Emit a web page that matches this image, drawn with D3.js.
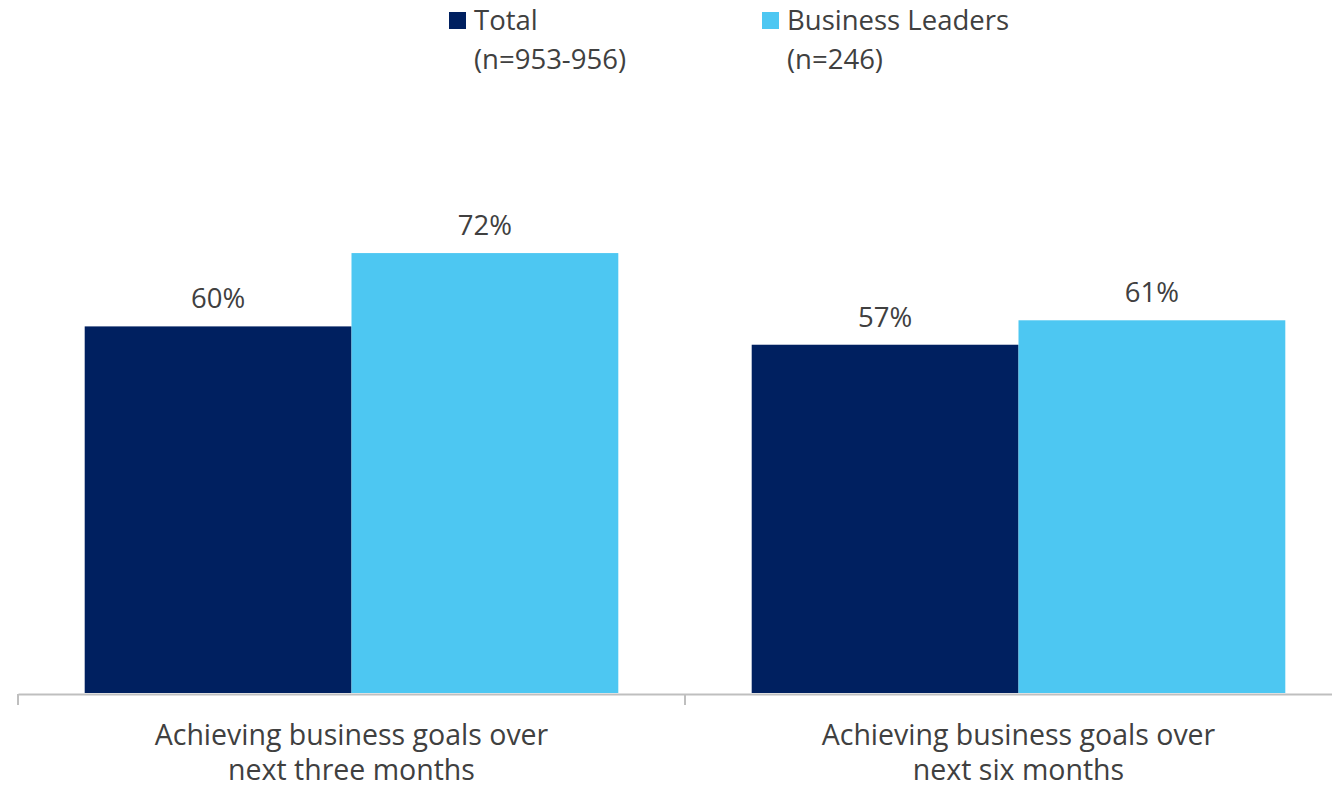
<!DOCTYPE html>
<html>
<head>
<meta charset="utf-8">
<script src="https://cdn.jsdelivr.net/npm/d3@7"></script>
<style>
  html, body { margin: 0; padding: 0; background: #fff; }
  svg { display: block; }
  text { font-family: "Open Sans", "Noto Sans", sans-serif; fill: #404040; }
</style>
</head>
<body>
<svg id="chart" width="1332" height="787"></svg>
<script>
// Share of respondents confident in achieving business goals
const categories = [
  ["Achieving business goals over", "next three months"],
  ["Achieving business goals over", "next six months"]
];
const seriesNames = ["Total", "Business Leaders"];
const seriesNotes = ["(n=953-956)", "(n=246)"];
const totalValues = [60, 57];
const leaderValues = [72, 61];
const colors = ["#002060", "#4dc7f2"];

const svg = d3.select("#chart");
const baseY = 693;

const catKeys = categories.map((c, i) => i);
const x0 = d3.scaleBand().domain(catKeys).range([18, 1352]).padding(0);
const bw = x0.bandwidth();
const x1 = d3.scaleBand().domain([0, 1]).range([bw * 0.1, bw * 0.9]).padding(0);
const y = d3.scaleLinear().domain([0, 100]).range([baseY, 82]);

const rows = catKeys.map(i => ({ i, vals: [totalValues[i], leaderValues[i]] }));

const groups = svg.selectAll("g.grp").data(rows).join("g")
  .attr("class", "grp")
  .attr("transform", d => `translate(${x0(d.i)},0)`);

groups.selectAll("rect").data(d => d.vals.map((v, s) => ({ v, s }))).join("rect")
  .attr("x", d => x1(d.s))
  .attr("width", x1.bandwidth())
  .attr("y", d => y(d.v))
  .attr("height", d => baseY - y(d.v))
  .attr("fill", d => colors[d.s]);

groups.selectAll("text.val").data(d => d.vals.map((v, s) => ({ v, s }))).join("text")
  .attr("class", "val")
  .attr("x", d => x1(d.s) + x1.bandwidth() / 2)
  .attr("y", d => y(d.v) - 18)
  .attr("text-anchor", "middle")
  .style("font-size", "27.5px")
  .text(d => d.v + "%");

// Category axis
const axis = d3.axisBottom(x0).tickSize(0).tickFormat(() => "");
const ax = svg.append("g").attr("transform", `translate(0,${baseY + 1})`).call(axis);
ax.select(".domain").attr("stroke", "#bfbfbf").attr("stroke-width", 2);
// boundary ticks between categories
const bounds = [18, x0(1), 1352];
ax.selectAll("line.bound").data(bounds).join("line")
  .attr("class", "bound")
  .attr("x1", d => d).attr("x2", d => d)
  .attr("y1", 0).attr("y2", 11)
  .attr("stroke", "#bfbfbf").attr("stroke-width", 2);

svg.selectAll("text.cat").data(categories).join("text")
  .attr("class", "cat")
  .attr("text-anchor", "middle")
  .attr("x", (d, i) => x0(i) + bw / 2)
  .attr("y", 745)
  .style("font-size", "28.5px")
  .selectAll("tspan").data(d => d).join("tspan")
  .attr("x", function () { return d3.select(this.parentNode).attr("x"); })
  .attr("dy", (d, i) => i === 0 ? 0 : 35)
  .text(d => d);

// Legend
const legX = [449, 762];
const leg = svg.selectAll("g.leg").data(seriesNames).join("g")
  .attr("class", "leg")
  .attr("transform", (d, i) => `translate(${legX[i]},0)`);
leg.append("rect").attr("x", 0).attr("y", 12).attr("width", 17).attr("height", 17)
  .attr("fill", (d, i) => colors[i]);
leg.append("text").attr("x", 25).attr("y", 30).style("font-size", "27.5px").text(d => d);
leg.append("text").attr("x", 25).attr("y", 69).style("font-size", "27.5px").text((d, i) => seriesNotes[i]);
</script>
</body>
</html>
